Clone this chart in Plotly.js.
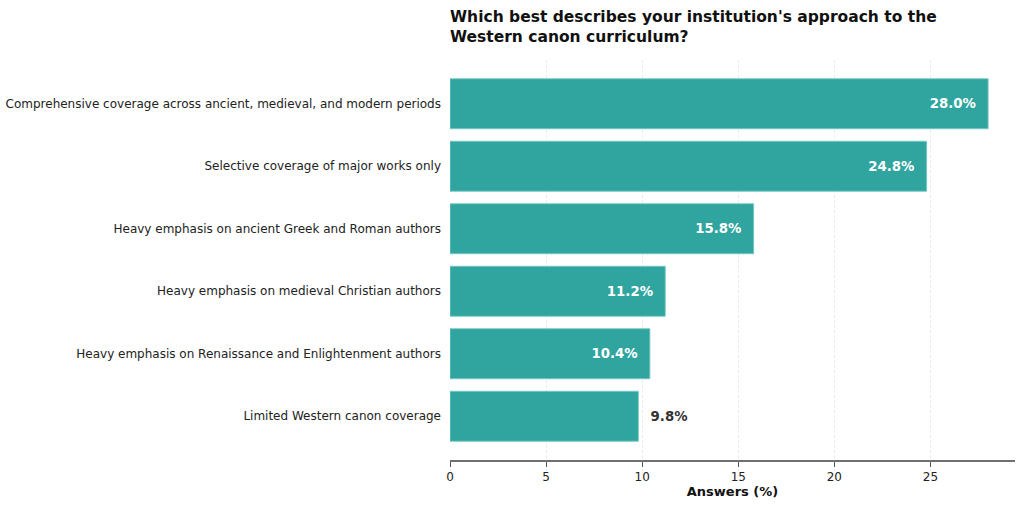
<!DOCTYPE html>
<html>
<head>
<meta charset="utf-8">
<script src="https://cdn.plot.ly/plotly-3.0.1.min.js"></script>
<style>
  body { margin: 0; background: #fff; }
  #chart { width: 1024px; height: 506px; }
</style>
</head>
<body>
<div id="chart"></div>
<script>
const categories = [
    "Comprehensive coverage across ancient, medieval, and modern periods",
    "Selective coverage of major works only",
    "Heavy emphasis on ancient Greek and Roman authors",
    "Heavy emphasis on medieval Christian authors",
    "Heavy emphasis on Renaissance and Enlightenment authors",
    "Limited Western canon coverage"
];
const answers = [28.0, 24.8, 15.8, 11.2, 10.4, 9.8];
// the smallest bar gets its label outside
const positions = answers.map(v => v < 10 ? "outside" : "inside");
const labels = answers.map(v => v < 10
    ? "\u00a0\u00a0" + v.toFixed(1) + "%"
    : v.toFixed(1) + "%\u00a0\u00a0");
const labelColors = answers.map(v => v < 10 ? "#333333" : "#ffffff");

const font = "DejaVu Sans, sans-serif";

Plotly.newPlot("chart", [{
    type: "bar",
    orientation: "h",
    y: categories,
    x: answers,
    text: labels,
    textposition: positions,
    insidetextanchor: "end",
    textfont: { family: font, size: 13.3, color: labelColors, weight: "bold" },
    cliponaxis: false,
    width: 0.8,
    marker: { color: "rgba(32,158,152,0.93)", line: { width: 1, color: "rgba(120,200,196,0.9)" } },
    hoverinfo: "none"
}], {
    width: 1024,
    height: 506,
    margin: { l: 450, r: 9, t: 60, b: 46 },
    paper_bgcolor: "#ffffff",
    plot_bgcolor: "#ffffff",
    font: { family: font, size: 12, color: "#222" },
    showlegend: false,
    title: {
        text: "<b>Which best describes your institution's approach to the<br>Western canon curriculum?</b>",
        font: { family: font, size: 15.5, color: "#111" },
        xref: "paper", x: 0, xanchor: "left",
        yref: "paper", y: 1, yanchor: "bottom",
        pad: { b: 38 }
    },
    xaxis: {
        range: [0, 29.4],
        tickvals: [0, 5, 10, 15, 20, 25],
        showgrid: true,
        gridcolor: "#ebebeb",
        griddash: "3px,2px",
        gridwidth: 1,
        zeroline: false,
        showline: true,
        linecolor: "#707070",
        linewidth: 2,
        ticks: "outside",
        ticklen: 5,
        tickcolor: "#555",
        tickfont: { family: font, size: 12, color: "#222" },
        title: { text: "<b>Answers (%)</b>", font: { family: font, size: 13, color: "#111" }, standoff: 3 }
    },
    yaxis: {
        autorange: false,
        range: [5.7, -0.7],
        showgrid: false,
        zeroline: false,
        showline: false,
        ticks: "",
        ticklabelstandoff: 8,
        tickfont: { family: font, size: 12, color: "#222" }
    }
}, { displayModeBar: false, staticPlot: true });
</script>
</body>
</html>
